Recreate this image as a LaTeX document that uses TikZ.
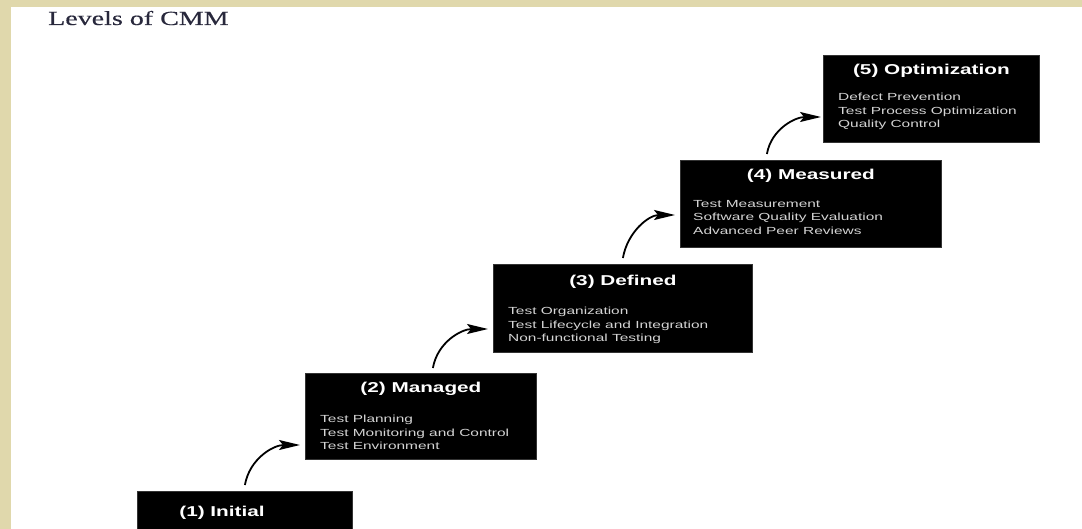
\documentclass[tikz,border=0pt]{standalone}
\usepackage{fontspec}
\usetikzlibrary{arrows.meta}
\newfontfamily\ttlfont[FakeStretch=1.4,FakeBold=0.4]{Liberation Serif}
\newfontfamily\bxtfont[FakeStretch=1.45]{Liberation Sans}
\newfontfamily\bxfont[FakeStretch=1.5]{Liberation Sans}
\definecolor{parch}{RGB}{224,216,172}
\definecolor{ttlcol}{RGB}{40,40,60}
\definecolor{itemcol}{RGB}{212,212,212}
\tikzset{
  lvlbox/.style={draw=black!80, fill=black, line width=0.8pt, minimum width=#1, anchor=north west, inner sep=0pt},
  lvltitle/.style={text=white, font=\bxtfont\bfseries\fontsize{14.3}{17}\selectfont, inner sep=0pt},
  lvlitems/.style={text=itemcol, font=\bxfont\fontsize{10.3}{13.6}\selectfont, align=left, inner sep=0pt, anchor=north west},
  stepconn/.style={line width=1.8pt, -{Stealth[length=21pt,width=10pt,inset=4pt]}}
}
\begin{document}
\begin{tikzpicture}[x=1pt,y=1pt]
\clip (0,0) rectangle (1082,-529);
\fill[parch] (0,0) rectangle (1082,-529);
\fill[white] (11,-7) rectangle (1082,-529);
\node[anchor=base west, inner sep=0pt, text=ttlcol, font=\ttlfont\fontsize{20}{24}\selectfont] (heading) at (48,-25) {Levels of CMM};
% boxes
\node[lvlbox=216pt, minimum height=87pt] (b5) at (823,-55) {};
\node[lvlbox=261pt, minimum height=87pt] (b4) at (680,-160) {};
\node[lvlbox=259pt, minimum height=88pt] (b3) at (493,-264) {};
\node[lvlbox=231pt, minimum height=86pt] (b2) at (305,-373) {};
\node[lvlbox=215pt, minimum height=80pt] (b1) at (137,-491) {};
% titles
\node[lvltitle] (t5) at ([yshift=-16pt]b5.north) {(5) Optimization};
\node[lvltitle] (t4) at ([yshift=-16pt]b4.north) {(4) Measured};
\node[lvltitle] (t3) at ([yshift=-18pt]b3.north) {(3) Defined};
\node[lvltitle] (t2) at ([yshift=-16pt]b2.north) {(2) Managed};
\node[lvltitle] (t1) at ([xshift=85pt,yshift=-22pt]b1.north west) {(1) Initial};
% items
\node[lvlitems] (i5) at ([xshift=15pt,yshift=-38pt]b5.north west) {Defect Prevention\\Test Process Optimization\\Quality Control};
\node[lvlitems] (i4) at ([xshift=13pt,yshift=-40pt]b4.north west) {Test Measurement\\Software Quality Evaluation\\Advanced Peer Reviews};
\node[lvlitems] (i3) at ([xshift=15pt,yshift=-43pt]b3.north west) {Test Organization\\Test Lifecycle and Integration\\Non-functional Testing};
\node[lvlitems] (i2) at ([xshift=15pt,yshift=-42pt]b2.north west) {Test Planning\\Test Monitoring and Control\\Test Environment};
% connectors
\coordinate (s1) at ([yshift=6pt]b1.north);
\coordinate (s2) at ([xshift=12pt,yshift=5pt]b2.north);
\coordinate (s3) at ([yshift=6pt]b3.north);
\coordinate (s4) at ([xshift=-44pt,yshift=6pt]b4.north);
\draw[stepconn] (s1) to[out=80,in=180] ([xshift=-5pt,yshift=-72pt]b2.north west);
\draw[stepconn] (s2) to[out=80,in=180] ([xshift=-5pt,yshift=-65pt]b3.north west);
\draw[stepconn] (s3) to[out=80,in=180] ([xshift=-5pt,yshift=-55pt]b4.north west);
\draw[stepconn] (s4) to[out=80,in=180] ([xshift=-2pt,yshift=-62pt]b5.north west);
\end{tikzpicture}
\end{document}
